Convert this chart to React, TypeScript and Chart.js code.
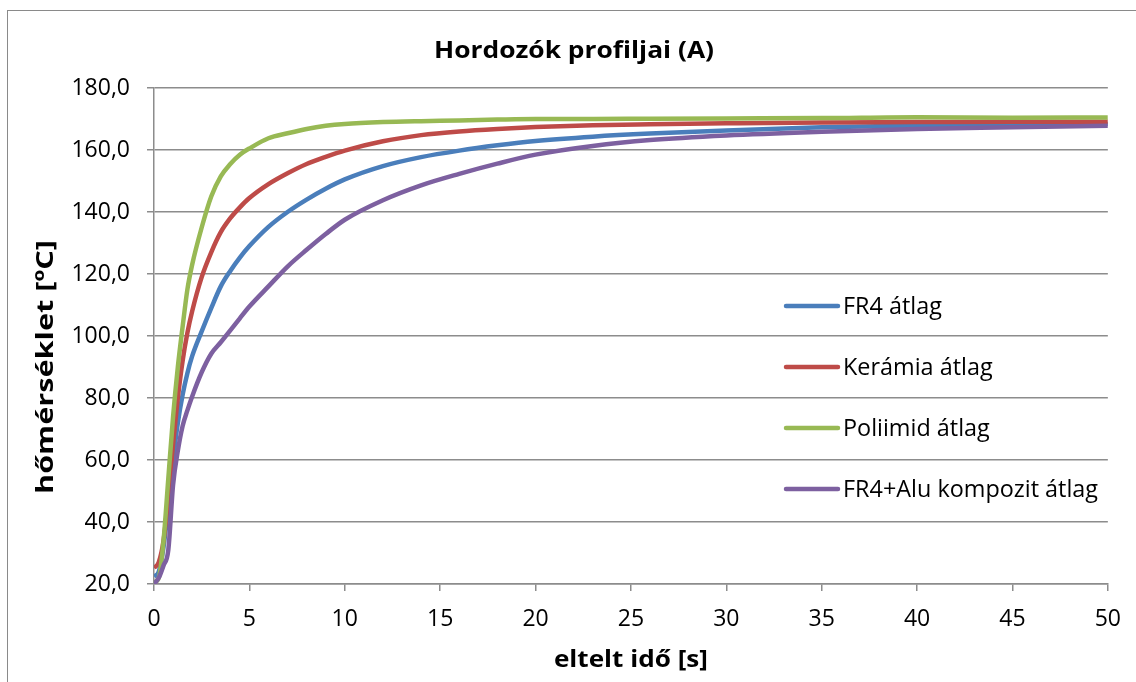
import React, { useEffect, useRef } from "react";
import { Chart, registerables } from "chart.js";

Chart.register(...registerables);

const chartTitle = "Hordozók profiljai (A)";
const xAxisTitle = "eltelt idő [s]";
const yAxisTitle = "hőmérséklet [ºC]";

const seriesNames = ["FR4 átlag", "Kerámia átlag", "Poliimid átlag", "FR4+Alu kompozit átlag"];
const seriesColors = ["#4A7EBB", "#BE4B48", "#98B954", "#7D60A0"];

const xTicks = [0, 5, 10, 15, 20, 25, 30, 35, 40, 45, 50];
const yTicks = [20, 40, 60, 80, 100, 120, 140, 160, 180];

const timeS = [0, 0.25, 0.5, 0.75, 1, 1.25, 1.5, 1.75, 2, 2.5, 3, 3.5, 4, 4.5, 5, 6, 7, 8, 9, 10, 12, 14, 16, 18, 20, 23, 26, 30, 35, 40, 45, 50];

const fr4Avg = [22.4, 24, 32, 45, 60, 72, 81, 88, 93.5, 101.5, 109, 116, 121, 125.3, 129, 135.2, 140, 144, 147.5, 150.5, 154.8, 157.7, 159.8, 161.5, 162.9, 164.3, 165.3, 166.3, 167.3, 167.9, 168.2, 168.4];
const keramiaAvg = [25.2, 27, 34, 48, 65, 80, 92, 101, 108, 119, 127, 133.5, 138, 141.5, 144.5, 149, 152.5, 155.5, 157.8, 159.8, 162.8, 164.8, 166, 166.8, 167.4, 168, 168.3, 168.6, 168.9, 169, 169.1, 169.1];
const poliimidAvg = [20.5, 22, 34, 54, 74, 90, 103, 115, 123, 135, 145, 151.5, 155.5, 158.5, 160.5, 163.8, 165.4, 166.8, 167.8, 168.4, 169, 169.3, 169.5, 169.8, 170, 170, 170.1, 170.2, 170.3, 170.6, 170.4, 170.5];
const aluKompozitAvg = [20, 22, 26, 31, 52, 63, 71, 76, 80.5, 88.3, 94.3, 98, 101.8, 105.7, 109.5, 116, 122.4, 127.8, 132.9, 137.5, 143.8, 148.6, 152.3, 155.6, 158.5, 161.3, 163.2, 164.7, 165.9, 166.8, 167.3, 167.8];

const seriesValues = [fr4Avg, keramiaAvg, poliimidAvg, aluKompozitAvg];

const FONT = "'Open Sans'";

function fitText(
  ctx: CanvasRenderingContext2D,
  text: string,
  x: number,
  y: number,
  sx: number,
  align: CanvasTextAlign,
  rotation = 0
) {
  ctx.save();
  ctx.translate(x, y);
  if (rotation) ctx.rotate(rotation);
  ctx.scale(sx, 1);
  ctx.textAlign = align;
  ctx.fillText(text, 0, 0);
  ctx.restore();
}

const decorPlugin = {
  id: "decor",
  afterDraw(chart: any) {
    const ctx = chart.ctx as CanvasRenderingContext2D;
    const area = chart.chartArea;
    ctx.save();
    ctx.fillStyle = "#000";
    ctx.textBaseline = "middle";

    ctx.font = `bold 24px ${FONT}`;
    const tW = ctx.measureText(chartTitle).width;
    fitText(ctx, chartTitle, 574, 51, 280 / tW, "center");
    const xW = ctx.measureText(xAxisTitle).width;
    fitText(ctx, xAxisTitle, (area.left + area.right) / 2, 660, 154 / xW, "center");
    const yW = ctx.measureText(yAxisTitle).width;
    fitText(ctx, yAxisTitle, 46, 367, 254 / yW, "center", -Math.PI / 2);

    ctx.font = `23px ${FONT}`;
    const longest = Math.max(...seriesNames.map((n) => ctx.measureText(n).width));
    const lsx = 255 / longest;
    seriesNames.forEach((name, i) => {
      const y = 306 + i * 61;
      ctx.strokeStyle = seriesColors[i];
      ctx.lineWidth = 4.5;
      ctx.lineCap = "round";
      ctx.beginPath();
      ctx.moveTo(786, y);
      ctx.lineTo(838, y);
      ctx.stroke();
      ctx.fillStyle = "#000";
      fitText(ctx, name, 843, y + 1, lsx, "left");
    });
    ctx.restore();
  },
};

export default function App() {
  const canvasRef = useRef<HTMLCanvasElement | null>(null);

  useEffect(() => {
    if (!canvasRef.current) return;
    const gridColor = "#8c8c8c";
    const chart = new Chart(canvasRef.current, {
      type: "line",
      data: {
        datasets: seriesNames.map((name, i) => ({
          label: name,
          data: timeS.map((t, j) => ({ x: t, y: seriesValues[i][j] })),
          borderColor: seriesColors[i],
          backgroundColor: seriesColors[i],
          borderWidth: 4.5,
          pointRadius: 0,
          fill: false,
          cubicInterpolationMode: "monotone" as const,
          borderJoinStyle: "round" as const,
          order: 4 - i,
        })),
      },
      options: {
        responsive: false,
        animation: false,
        layout: { padding: { top: 88, right: 25, left: 0, bottom: 0 } },
        plugins: {
          legend: { display: false },
          title: { display: false },
          tooltip: { enabled: false },
        },
        scales: {
          x: {
            type: "linear",
            min: xTicks[0],
            max: xTicks[xTicks.length - 1],
            afterBuildTicks: (scale: any) => {
              scale.ticks = xTicks.map((v) => ({ value: v }));
            },
            afterFit: (scale: any) => {
              scale.height = 98;
            },
            ticks: {
              color: "#000",
              font: { family: FONT, size: 23 },
              padding: 15,
              maxRotation: 0,
              callback: (v: any) => String(v),
            },
            grid: {
              drawOnChartArea: false,
              drawTicks: true,
              tickLength: 7,
              color: gridColor,
              lineWidth: 1.5,
            },
            border: { display: true, color: gridColor, width: 1.5 },
          },
          y: {
            type: "linear",
            min: yTicks[0],
            max: yTicks[yTicks.length - 1],
            afterBuildTicks: (scale: any) => {
              scale.ticks = yTicks.map((v) => ({ value: v }));
            },
            afterFit: (scale: any) => {
              scale.width = 154;
            },
            ticks: {
              color: "#000",
              font: { family: FONT, size: 23 },
              padding: 17,
              callback: (v: any) => Number(v).toFixed(1).replace(".", ","),
            },
            grid: {
              drawOnChartArea: true,
              drawTicks: true,
              tickLength: 7,
              color: gridColor,
              lineWidth: 1.5,
            },
            border: { display: true, color: gridColor, width: 1.5 },
          },
        },
      },
      plugins: [decorPlugin],
    });
    return () => chart.destroy();
  }, []);

  return (
    <div
      style={{
        position: "absolute",
        left: 0,
        top: 0,
        width: 1136,
        height: 682,
        overflow: "hidden",
        background: "#fff",
      }}
    >
      <div
        style={{
          position: "absolute",
          left: 7,
          top: 10,
          width: 1300,
          height: 900,
          borderLeft: "1.5px solid #8a8a8a",
          borderTop: "1.5px solid #8a8a8a",
        }}
      />
      <canvas
        ref={canvasRef}
        width={1136}
        height={682}
        style={{ position: "absolute", left: 0, top: 0, width: 1136, height: 682 }}
      />
    </div>
  );
}
